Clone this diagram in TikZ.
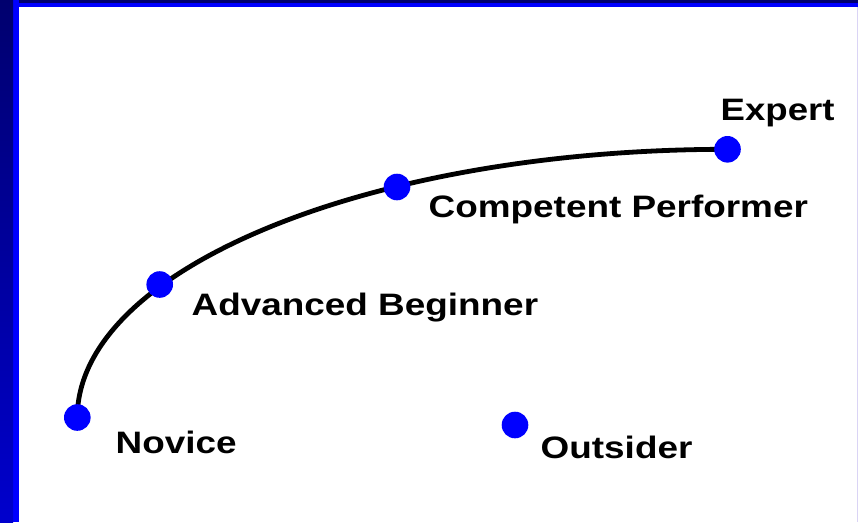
\documentclass[tikz,border=0pt]{standalone}
\usepackage{fontspec}
\setmainfont{Liberation Sans}
\definecolor{framenavy}{RGB}{0,0,110}
\definecolor{framedeep}{RGB}{0,0,205}
\definecolor{frameblue}{RGB}{0,0,255}
\definecolor{edgelav}{RGB}{218,212,245}
\definecolor{dotblue}{RGB}{0,0,255}
\begin{document}
\begin{tikzpicture}[x=1pt,y=-1pt,
  stage/.style={circle,fill=dotblue,draw=none,minimum size=26.6pt,inner sep=0pt},
  stagelabel/.style={anchor=base west,inner sep=0pt,font=\fontsize{31}{37}\selectfont\bfseries},
  path line/.style={line width=4.8pt,draw=black}]
  \useasboundingbox (0,0) rectangle (858,522);
  % page and frame
  \fill[white] (0,0) rectangle (858,522);
  \fill[frameblue] (0,0) rectangle (858,7);
  \fill[framenavy] (0,0) rectangle (858,2.5);
  \fill[frameblue] (0,0) rectangle (19,522);
  \shade[top color=framenavy,bottom color=framedeep] (0,0) rectangle (13,522);
  \fill[edgelav] (856.8,7) rectangle (858,522);

  % stage positions
  \coordinate (novicept) at (77.3,417.5);
  \coordinate (advpt) at (159.7,284.5);
  \coordinate (comppt) at (397,187);
  \coordinate (exppt) at (727.5,149.3);
  \coordinate (outpt) at (515,425);

  % development curve from novice to expert
  \draw[path line] (novicept) arc[start angle=180,end angle=270,x radius=650.2,y radius=268.2];

  % stages
  \node[stage] (novice) at (novicept) {};
  \node[stage] (adv) at (advpt) {};
  \node[stage] (comp) at (comppt) {};
  \node[stage] (expert) at (exppt) {};
  \node[stage] (outsider) at (outpt) {};

  % labels
  \node[stagelabel] (lexpert) at (720.5,120) {\scalebox{1.18}[1]{Expert}};
  \node[stagelabel] (lcomp) at (428.5,217) {\scalebox{1.19}[1]{Competent Performer}};
  \node[stagelabel] (ladv) at (191.5,315) {\scalebox{1.19}[1]{Advanced Beginner}};
  \node[stagelabel] (lnovice) at (115.5,453) {\scalebox{1.19}[1]{Novice}};
  \node[stagelabel] (loutsider) at (540.5,458) {\scalebox{1.19}[1]{Outsider}};
\end{tikzpicture}
\end{document}
